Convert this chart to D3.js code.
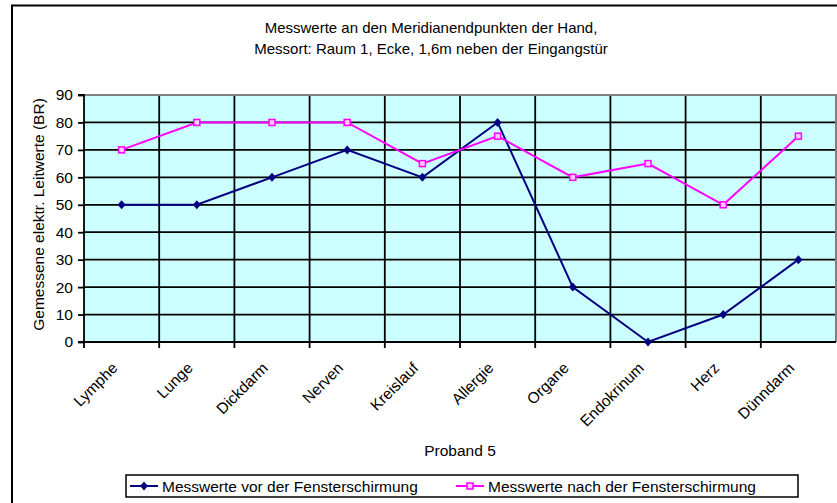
<!DOCTYPE html>
<html><head><meta charset="utf-8">
<script src="https://cdn.jsdelivr.net/npm/d3@7"></script>
<style>body{margin:0;background:#fff}svg{display:block}text{font-family:"Liberation Sans",Arial,sans-serif}</style>
</head><body>
<svg id="c" width="837" height="503"></svg>
<script>
const categories = ["Lymphe","Lunge","Dickdarm","Nerven","Kreislauf","Allergie","Organe","Endokrinum","Herz","Dünndarm"];
const valuesBefore = [50,50,60,70,60,80,20,0,10,30];
const valuesAfter = [70,80,80,80,65,75,60,65,50,75];
const yTicks = [0,10,20,30,40,50,60,70,80,90];
const seriesNames = ["Messwerte vor der Fensterschirmung","Messwerte nach der Fensterschirmung"];
const titleLines = ["Messwerte an den Meridianendpunkten der Hand,","Messort: Raum 1, Ecke, 1,6m neben der Eingangstür"];
const xTitle = "Proband 5";
const yTitle = "Gemessene elektr. Leitwerte (BR)";

const FS = 15.5;
const svg = d3.select("#c");
const m = {l:84, r:836, t:95, b:342};
const x = d3.scaleBand().domain(categories).range([m.l, m.r]);
const y = d3.scaleLinear().domain([0,90]).range([m.b, m.t]);

// outer chart border
svg.append("rect").attr("x",12).attr("y",5.5).attr("width",850).attr("height",520)
  .attr("fill","#fff").attr("stroke","#000").attr("stroke-width",2);

// plot background
svg.append("rect").attr("x",m.l).attr("y",m.t).attr("width",m.r-m.l).attr("height",m.b-m.t).attr("fill","#ccffff");

// horizontal grid
svg.append("g").selectAll("line").data(yTicks.filter(d=>d>0)).join("line")
  .attr("x1",m.l).attr("x2",m.r).attr("y1",d=>y(d)).attr("y2",d=>y(d))
  .attr("stroke","#000").attr("stroke-width",1.8);
// vertical grid at band boundaries
const bounds = categories.map(c=>x(c)).slice(1);
svg.append("g").selectAll("line").data(bounds).join("line")
  .attr("x1",d=>d).attr("x2",d=>d).attr("y1",m.t).attr("y2",m.b+6)
  .attr("stroke","#000").attr("stroke-width",1.8);
// plot border top/right grey
svg.append("path").attr("d",`M${m.l},${m.t}H${m.r}V${m.b}`).attr("fill","none").attr("stroke","#808080").attr("stroke-width",2);

// y axis
const ya = svg.append("g").attr("transform",`translate(${m.l},0)`)
  .call(d3.axisLeft(y).tickValues(yTicks).tickSize(6).tickPadding(5).tickFormat(d3.format("d")));
ya.select(".domain").attr("stroke","#000").attr("stroke-width",1.8).attr("d",`M-6,${m.t}H0V${m.b}H-6`);
ya.selectAll(".tick line").attr("stroke","#000").attr("stroke-width",1.8);
ya.selectAll(".tick text").attr("font-size",FS).attr("fill","#000").attr("font-family","Liberation Sans, Arial, sans-serif");

// x axis
const xa = svg.append("g").attr("transform",`translate(0,${m.b})`).call(d3.axisBottom(x).tickSize(0).tickFormat(""));
xa.select(".domain").attr("stroke","#000").attr("stroke-width",1.8).attr("d",`M${m.l},6V0H${m.r}`);
svg.append("g").selectAll("text").data(categories).join("text")
  .attr("transform",d=>`translate(${x(d)+x.bandwidth()/2-3},${m.b+27}) rotate(-45)`)
  .attr("text-anchor","end").attr("font-size",FS).attr("fill","#000").text(d=>d);

// titles
svg.append("g").selectAll("text").data(titleLines).join("text")
  .attr("x",431).attr("y",(d,i)=>33+i*21).attr("text-anchor","middle").attr("font-size",15).attr("fill","#000").text(d=>d);
svg.append("text").attr("x",(m.l+m.r)/2).attr("y",456).attr("text-anchor","middle").attr("font-size",FS).text(xTitle);
svg.append("text").attr("transform",`translate(44,${(m.t+m.b)/2-4}) rotate(-90)`).attr("text-anchor","middle").attr("font-size",FS).text(yTitle);

// lines
const cx = d=>x(d)+x.bandwidth()/2;
const line = d3.line().x((d,i)=>cx(categories[i])).y(d=>y(d));
svg.append("path").datum(valuesBefore).attr("d",line).attr("fill","none").attr("stroke","#000080").attr("stroke-width",2);
svg.append("path").datum(valuesAfter).attr("d",line).attr("fill","none").attr("stroke","#ff00ff").attr("stroke-width",2);
const diamond = "M0,-4.5L4,0L0,4.5L-4,0Z";
svg.append("g").selectAll("path").data(valuesBefore).join("path")
  .attr("transform",(d,i)=>`translate(${cx(categories[i])},${y(d)})`).attr("d",diamond).attr("fill","#000080");
svg.append("g").selectAll("rect").data(valuesAfter).join("rect")
  .attr("x",(d,i)=>cx(categories[i])-3).attr("y",d=>y(d)-3).attr("width",6).attr("height",6)
  .attr("fill","#ffccff").attr("stroke","#ff00ff").attr("stroke-width",1.5);

// legend
const lg = svg.append("g");
lg.append("rect").attr("x",126).attr("y",475).attr("width",672).attr("height",22).attr("fill","#fff").attr("stroke","#000").attr("stroke-width",1.5);
const items = [{n:seriesNames[0],c:"#000080",x0:130,t:"d"},{n:seriesNames[1],c:"#ff00ff",x0:456,t:"s"}];
items.forEach(it=>{
  lg.append("line").attr("x1",it.x0).attr("x2",it.x0+28).attr("y1",486).attr("y2",486).attr("stroke",it.c).attr("stroke-width",2);
  if(it.t==="d") lg.append("path").attr("transform",`translate(${it.x0+14},486)`).attr("d",diamond).attr("fill",it.c);
  else lg.append("rect").attr("x",it.x0+11).attr("y",483).attr("width",6).attr("height",6).attr("fill","#ffccff").attr("stroke",it.c).attr("stroke-width",1.5);
  lg.append("text").attr("x",it.x0+32).attr("y",491.5).attr("font-size",FS).text(it.n);
});
</script>
</body></html>
